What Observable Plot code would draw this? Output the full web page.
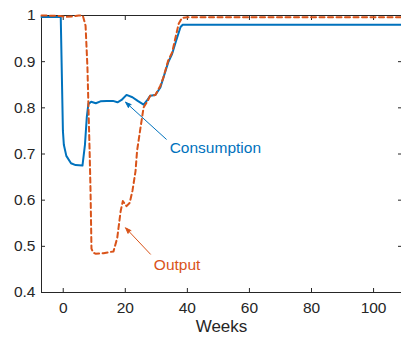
<!DOCTYPE html>
<html>
<head>
<meta charset="utf-8">
<script src="https://cdn.jsdelivr.net/npm/d3@7"></script>
<script src="https://cdn.jsdelivr.net/npm/@observablehq/plot@0.6"></script>
<style>
  body { margin: 0; background: #fff; overflow: hidden; }
</style>
</head>
<body>
<div id="chart"></div>
<script>
// Consumption path (share of pre-shock level) by week
const consumptionWeeks = [-7, -0.8, -0.1, 0.2, 1, 2.5, 4, 6.2, 7, 7.6, 8.1, 9, 10.5, 12, 14, 16, 17.5, 18.8, 20.4, 22.3, 24, 25.9, 27, 28, 29.7, 31.3, 32.3, 33.8, 35.1, 36.4, 37.8, 38.5, 109];
const consumptionValues = [0.997, 0.997, 0.75, 0.72, 0.696, 0.68, 0.676, 0.675, 0.72, 0.78, 0.808, 0.813, 0.81, 0.814, 0.815, 0.815, 0.812, 0.817, 0.828, 0.823, 0.815, 0.807, 0.816, 0.826, 0.828, 0.844, 0.866, 0.898, 0.917, 0.946, 0.975, 0.98, 0.98];

// Output path by week
const outputWeeks = [-7, -1, 1, 3, 5, 6.3, 7.2, 7.8, 8.5, 8.8, 9.1, 9.6, 10.4, 13, 16.2, 17.4, 18.5, 19.2, 20.4, 21.4, 22.3, 23.3, 23.8, 24.9, 25.9, 27.2, 28, 29.7, 31.3, 32.3, 33.8, 35.1, 36.2, 37.2, 38.3, 40, 109];
const outputValues = [1.0, 0.999, 0.997, 0.998, 1.0, 1.0, 0.978, 0.888, 0.707, 0.62, 0.495, 0.487, 0.484, 0.485, 0.489, 0.518, 0.576, 0.598, 0.587, 0.594, 0.62, 0.663, 0.707, 0.757, 0.801, 0.815, 0.826, 0.828, 0.848, 0.866, 0.902, 0.92, 0.953, 0.982, 0.995, 0.996, 0.996];

// Tick values
const xTicks = [0, 20, 40, 60, 80, 100];
const yTicks = [0.4, 0.5, 0.6, 0.7, 0.8, 0.9, 1];

// Annotation labels and their pointer arrows
const labelNames = ["Consumption", "Output"];
const labelX = [34.3, 29.2];
const labelY = [0.712, 0.46];
const arrowX1 = [33.2, 28.1];
const arrowY1 = [0.732, 0.483];
const arrowX2 = [20.1, 20.1];
const arrowY2 = [0.812, 0.54];

const BLUE = "#0072BD";
const ORANGE = "#D95319";
const INK = "#262626";

const consumption = consumptionWeeks.map((w, i) => ({week: w, value: consumptionValues[i]}));
const output = outputWeeks.map((w, i) => ({week: w, value: outputValues[i]}));
const labels = labelNames.map((name, i) => ({
  name, x: labelX[i], y: labelY[i],
  x1: arrowX1[i], y1: arrowY1[i], x2: arrowX2[i], y2: arrowY2[i],
  color: i === 0 ? BLUE : ORANGE
}));

const fmt = d => `${+d.toFixed(1)}`;

const chart = Plot.plot({
  width: 401,
  height: 339,
  marginLeft: 41,
  marginRight: 0,
  marginTop: 15,
  marginBottom: 47,
  style: {fontFamily: "'Liberation Sans', Arial, sans-serif", fontSize: "15px", color: INK, background: "#fff"},
  x: {domain: [-7, 109]},
  y: {domain: [0.4, 1]},
  marks: [
    // box
    Plot.ruleY([0.4, 1], {stroke: INK, strokeWidth: 1}),
    Plot.ruleX([-7], {stroke: INK, strokeWidth: 1}),
    // inward ticks on all four sides
    Plot.axisX({anchor: "bottom", ticks: xTicks, tickSize: -4, tickPadding: 13, tickFormat: fmt, stroke: INK, fill: INK, fontSize: 15.5, label: null}),
    Plot.axisX({anchor: "top", ticks: xTicks, tickSize: -4, text: null, label: null, stroke: INK}),
    Plot.axisY({anchor: "left", ticks: yTicks, tickSize: -4, tickPadding: 10, tickFormat: fmt, stroke: INK, fill: INK, fontSize: 15.5, label: null}),
    Plot.axisY({anchor: "right", ticks: yTicks, tickSize: -4, text: null, label: null, stroke: INK}),
    // x-axis title
    Plot.text(["Weeks"], {frameAnchor: "bottom", text: d => d, dy: 39, fill: INK, fontSize: 17}),
    // series
    Plot.line(consumption, {x: "week", y: "value", stroke: BLUE, strokeWidth: 2, curve: "linear"}),
    Plot.line(output, {x: "week", y: "value", stroke: ORANGE, strokeWidth: 2, strokeDasharray: "5,3.5", curve: "linear"}),
    // annotations
    Plot.arrow(labels, {x1: "x1", y1: "y1", x2: "x2", y2: "y2", stroke: "color", fill: "color", strokeWidth: 1, headLength: 9, headAngle: 40, bend: 0}),
    Plot.text(labels, {x: "x", y: "y", text: "name", fill: "color", textAnchor: "start", fontSize: 15.5})
  ]
});

document.getElementById("chart").appendChild(chart);
</script>
</body>
</html>
